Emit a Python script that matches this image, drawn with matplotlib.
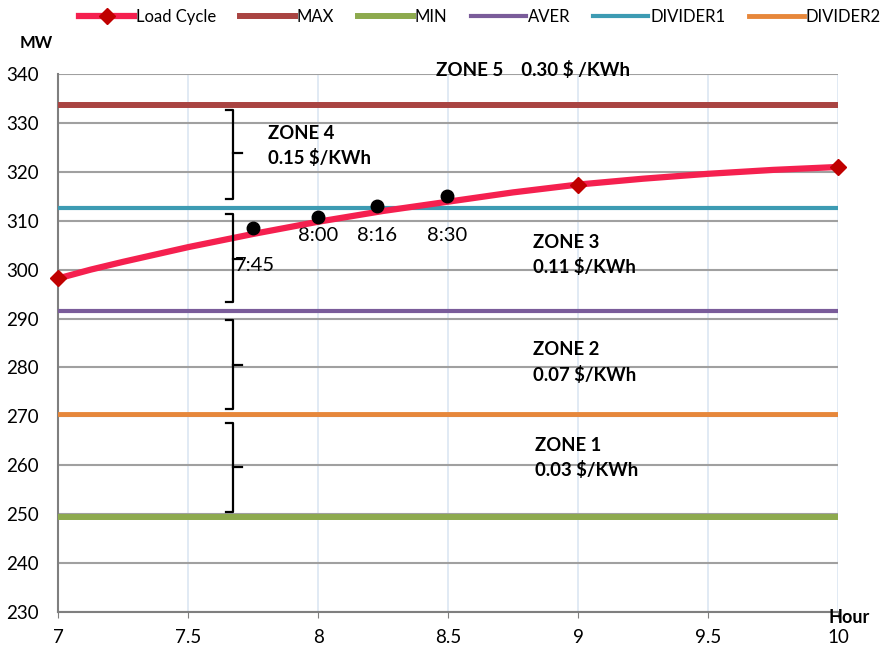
import matplotlib.pyplot as plt
import numpy as np

plt.rcParams['font.family'] = ['Lato', 'DejaVu Sans']

# 부하 곡선 (시간, MW)
hours = [7, 7.125, 7.25, 7.5, 7.75, 8, 8.25, 8.5, 8.75, 9, 9.25, 9.5, 9.75, 10]
load = [298.2, 300.0, 301.6, 304.6, 307.3, 309.8, 312.0, 313.9, 315.8, 317.4, 318.6, 319.6, 320.4, 321.0]
marker_hours = [7, 9, 10]
marker_load = [298.2, 317.4, 321.0]

# 구간 경계선 값
max_mw = 333.7
min_mw = 249.4
aver_mw = 291.5
divider1_mw = 312.7
divider2_mw = 270.5

# 시각 표시 점
time_hours = [7.75, 8.0, 8.226, 8.496]
time_load = [308.5, 310.8, 313.0, 315.1]
time_labels = ['7:45', '8:00', '8:16', '8:30']

# 구간 요금 (괄호 범위: 위, 아래, 중간)
zone_text = ['ZONE 4\n0.15 $/KWh', 'ZONE 3\n0.11 $/KWh', 'ZONE 2\n0.07 $/KWh', 'ZONE 1\n0.03 $/KWh']
zone_top = [332.6, 311.3, 289.7, 268.6]
zone_bottom = [314.5, 293.3, 271.5, 250.4]
zone_mid = [323.8, 302.2, 280.5, 259.6]

fig = plt.figure(figsize=(8.86, 6.46), dpi=100)
ax = fig.add_axes([0.0655, 0.0526, 0.8805, 0.8328])

ax.plot(hours, load, color='#F5204F', lw=4.5, solid_capstyle='round', zorder=5)
ax.plot(marker_hours, marker_load, ls='none', marker='D', ms=8, color='#C00000', zorder=6, clip_on=False)
ax.plot([], [], color='#F5204F', lw=4.5, marker='D', ms=8, mfc='#C00000', mec='#C00000', label='Load Cycle')

xr = [7, 10]
ax.plot(xr, [max_mw] * 2, color='#A94442', lw=4.3, label='MAX', zorder=3)
ax.plot(xr, [min_mw] * 2, color='#8DAA4E', lw=4.3, label='MIN', zorder=3)
ax.plot(xr, [aver_mw] * 2, color='#7A5C9A', lw=3.0, label='AVER', zorder=3)
ax.plot(xr, [divider1_mw] * 2, color='#3D9BB3', lw=3.0, label='DIVIDER1', zorder=3)
ax.plot(xr, [divider2_mw] * 2, color='#E7873A', lw=3.5, label='DIVIDER2', zorder=3)

ax.plot(time_hours, time_load, 'o', color='black', ms=9, zorder=7)
ax.text(time_hours[0] - 0.07, 300.9, time_labels[0], fontsize=14.5, va='center')
for x, lab in zip(time_hours[1:], time_labels[1:]):
    ax.text(x, 306.9, lab, fontsize=14.5, ha='center', va='center')

# 구간 괄호
sx, hx, tx = 7.672, 7.646, 7.708
for t, b, m in zip(zone_top, zone_bottom, zone_mid):
    ax.plot([hx, sx, sx, hx], [t, t, b, b], color='black', lw=1.6, zorder=8)
    ax.plot([sx, tx], [m, m], color='black', lw=1.6, zorder=8)

zone_x = [7.808, 8.825, 8.825, 8.835]
zone_y = [325.3, 303.0, 281.0, 261.5]
for x, y, s in zip(zone_x, zone_y, zone_text):
    ax.text(x, y, s, fontsize=13.3, fontweight='bold', linespacing=1.5, va='center')
ax.text(8.455, 340.9, 'ZONE 5    0.30 $ /KWh', fontsize=13.5, fontweight='bold', va='center')

ax.set_xlim(7, 10)
ax.set_ylim(230, 340)
ax.set_xticks([7, 7.5, 8, 8.5, 9, 9.5, 10])
ax.set_xticklabels(['7', '7.5', '8', '8.5', '9', '9.5', '10'])
ax.set_yticks(np.arange(230, 341, 10))
ax.tick_params(axis='both', labelsize=13.5, colors='black')
ax.tick_params(axis='x', length=4, color='#7F7F7F', pad=8)
ax.tick_params(axis='y', length=0, pad=14)
ax.grid(axis='y', color='#A0A0A0', lw=1.5, zorder=1)
ax.grid(axis='x', color='#DCE6F2', lw=1.2, zorder=1)
ax.set_axisbelow(True)
for s in ['top', 'right']:
    ax.spines[s].set_visible(False)
for s in ['left', 'bottom']:
    ax.spines[s].set_color('#7F7F7F')
    ax.spines[s].set_linewidth(1.5)

fig.text(0.022, 0.925, 'MW', fontsize=12, fontweight='bold')
fig.text(0.958, 0.036, 'Hour', fontsize=13, fontweight='bold', ha='center')

fig.legend(loc='upper left', bbox_to_anchor=(0.082, 0.996), ncol=6, frameon=False,
           fontsize=12, handlelength=3.3, handletextpad=0.12, columnspacing=1.4,
           borderaxespad=0)

fig.savefig('out.png', dpi=100)
